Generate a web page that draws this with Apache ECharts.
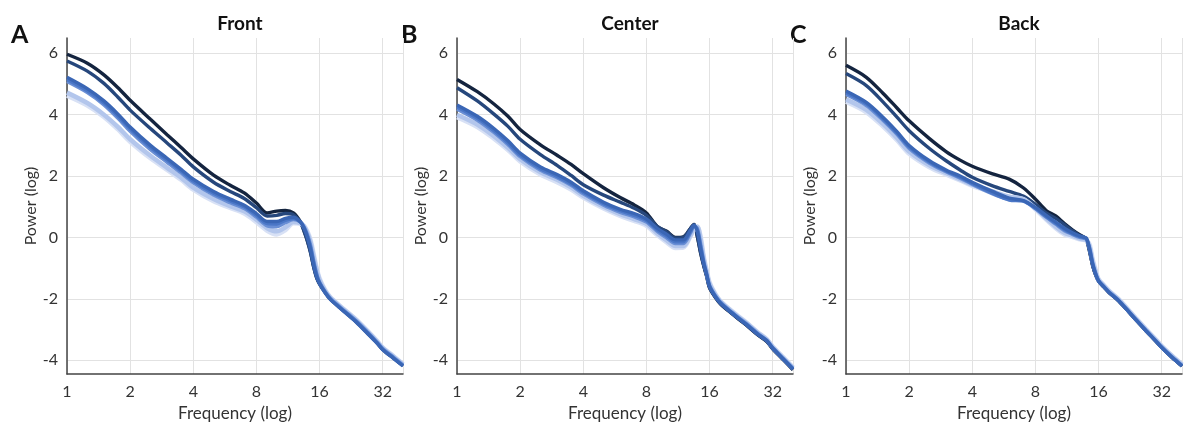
<!DOCTYPE html>
<html>
<head>
<meta charset="utf-8">
<script src="https://cdn.jsdelivr.net/npm/echarts@6/dist/echarts.min.js"></script>
<style>
  html, body { margin: 0; padding: 0; background: #fff; }
  #chart { width: 1192px; height: 429px; }
</style>
</head>
<body>
<div id="chart"></div>
<script>
// Frequencies (Hz) at which the spectra are sampled
const freqs = [1, 1.25, 1.5, 1.75, 2, 2.5, 3, 3.5, 4, 5, 6, 7, 8, 9, 10, 11, 12, 13, 13.5, 14, 14.5, 15, 15.5, 16, 17, 18, 20, 22, 24, 27, 30, 32, 36, 40];

const panelTitles = ['Front', 'Center', 'Back'];
const panelLetters = ['A', 'B', 'C'];
const yTicks = [-4, -2, 0, 2, 4, 6];

// Line colours, darkest to lightest
const shades = ['#14243f', '#26477c', '#3a66b5', '#4b77c7', '#6a8fd5', '#b3c6ec', '#d8e1f5'];

// Front region: log power per frequency, one list per line (darkest first)
const front1 = [5.97, 5.68, 5.30, 4.88, 4.47, 3.85, 3.35, 2.93, 2.56, 2.03, 1.70, 1.45, 1.12, 0.80, 0.86, 0.88, 0.80, 0.50, 0.22, -0.10, -0.48, -0.95, -1.30, -1.50, -1.78, -2.00, -2.28, -2.52, -2.75, -3.10, -3.42, -3.64, -3.92, -4.17];
const front2 = [5.75, 5.42, 5.02, 4.57, 4.15, 3.55, 3.08, 2.68, 2.30, 1.80, 1.50, 1.27, 0.97, 0.70, 0.72, 0.78, 0.74, 0.48, 0.20, -0.12, -0.50, -0.97, -1.32, -1.52, -1.79, -2.01, -2.29, -2.53, -2.76, -3.11, -3.43, -3.65, -3.93, -4.18];
const front3 = [5.22, 4.85, 4.45, 4.02, 3.60, 3.00, 2.58, 2.22, 1.90, 1.50, 1.25, 1.05, 0.78, 0.52, 0.52, 0.62, 0.66, 0.50, 0.30, 0.00, -0.40, -0.90, -1.28, -1.50, -1.80, -2.02, -2.30, -2.54, -2.77, -3.12, -3.44, -3.66, -3.94, -4.19];
const front4 = [5.15, 4.78, 4.38, 3.95, 3.53, 2.93, 2.52, 2.16, 1.84, 1.44, 1.19, 1.00, 0.72, 0.45, 0.44, 0.56, 0.62, 0.50, 0.32, 0.05, -0.32, -0.82, -1.22, -1.48, -1.78, -2.00, -2.28, -2.52, -2.74, -3.09, -3.42, -3.64, -3.92, -4.18];
const front5 = [5.08, 4.72, 4.32, 3.88, 3.46, 2.86, 2.45, 2.10, 1.78, 1.38, 1.13, 0.94, 0.66, 0.38, 0.35, 0.48, 0.58, 0.50, 0.35, 0.10, -0.25, -0.75, -1.17, -1.45, -1.76, -1.98, -2.26, -2.50, -2.72, -3.07, -3.40, -3.62, -3.90, -4.16];
const front6 = [4.72, 4.38, 4.00, 3.60, 3.20, 2.66, 2.27, 1.95, 1.62, 1.25, 1.02, 0.85, 0.58, 0.30, 0.20, 0.33, 0.50, 0.46, 0.36, 0.15, -0.15, -0.62, -1.05, -1.38, -1.73, -1.96, -2.24, -2.48, -2.70, -3.05, -3.38, -3.60, -3.88, -4.14];
const front7 = [4.62, 4.30, 3.93, 3.52, 3.12, 2.58, 2.20, 1.88, 1.56, 1.18, 0.96, 0.78, 0.50, 0.22, 0.10, 0.24, 0.46, 0.45, 0.38, 0.20, -0.08, -0.52, -0.98, -1.32, -1.70, -1.94, -2.22, -2.46, -2.68, -3.03, -3.36, -3.58, -3.86, -4.12];

// Center region
const center1 = [5.15, 4.75, 4.35, 3.95, 3.52, 3.02, 2.68, 2.38, 2.08, 1.62, 1.30, 1.06, 0.80, 0.36, 0.20, 0.00, 0.02, 0.30, 0.42, 0.02, -0.50, -0.92, -1.27, -1.64, -1.94, -2.16, -2.43, -2.66, -2.86, -3.16, -3.39, -3.63, -3.99, -4.31];
const center2 = [4.88, 4.45, 4.02, 3.62, 3.20, 2.70, 2.35, 2.02, 1.72, 1.38, 1.15, 0.95, 0.72, 0.36, 0.18, -0.02, 0.00, 0.30, 0.42, 0.04, -0.48, -0.90, -1.25, -1.63, -1.93, -2.15, -2.42, -2.65, -2.85, -3.15, -3.38, -3.62, -3.98, -4.30];
const center3 = [4.32, 3.95, 3.55, 3.15, 2.75, 2.30, 2.05, 1.80, 1.52, 1.15, 0.92, 0.78, 0.60, 0.30, 0.10, -0.08, -0.08, 0.25, 0.40, 0.18, -0.38, -0.85, -1.22, -1.60, -1.92, -2.14, -2.41, -2.64, -2.84, -3.14, -3.37, -3.61, -3.97, -4.29];
const center4 = [4.25, 3.88, 3.48, 3.08, 2.68, 2.24, 1.99, 1.74, 1.47, 1.10, 0.87, 0.72, 0.55, 0.25, 0.04, -0.14, -0.14, 0.20, 0.38, 0.24, -0.28, -0.80, -1.20, -1.58, -1.90, -2.12, -2.40, -2.63, -2.83, -3.13, -3.36, -3.60, -3.96, -4.28];
const center5 = [4.18, 3.82, 3.42, 3.02, 2.63, 2.19, 1.95, 1.70, 1.42, 1.05, 0.82, 0.67, 0.50, 0.20, -0.02, -0.20, -0.20, 0.15, 0.36, 0.30, -0.20, -0.75, -1.17, -1.55, -1.88, -2.10, -2.38, -2.61, -2.81, -3.11, -3.35, -3.59, -3.95, -4.27];
const center6 = [4.00, 3.68, 3.30, 2.92, 2.55, 2.12, 1.88, 1.63, 1.36, 1.00, 0.76, 0.60, 0.44, 0.14, -0.10, -0.28, -0.28, 0.08, 0.30, 0.35, -0.05, -0.68, -1.12, -1.50, -1.85, -2.08, -2.36, -2.59, -2.79, -3.09, -3.33, -3.57, -3.93, -4.25];
const center7 = [3.92, 3.60, 3.22, 2.85, 2.48, 2.05, 1.80, 1.56, 1.30, 0.94, 0.70, 0.54, 0.38, 0.08, -0.16, -0.34, -0.33, 0.04, 0.26, 0.36, 0.05, -0.60, -1.06, -1.45, -1.82, -2.06, -2.34, -2.57, -2.77, -3.07, -3.31, -3.55, -3.91, -4.23];

// Back region
const back1 = [5.61, 5.22, 4.70, 4.22, 3.80, 3.22, 2.80, 2.52, 2.32, 2.07, 1.90, 1.62, 1.25, 0.88, 0.70, 0.45, 0.25, 0.09, 0.03, -0.08, -0.45, -0.92, -1.22, -1.42, -1.62, -1.80, -2.07, -2.38, -2.67, -3.05, -3.38, -3.59, -3.92, -4.19];
const back2 = [5.34, 4.95, 4.42, 3.92, 3.48, 2.90, 2.50, 2.20, 1.96, 1.68, 1.50, 1.35, 1.08, 0.80, 0.62, 0.42, 0.22, 0.06, 0.02, -0.06, -0.45, -0.92, -1.22, -1.42, -1.62, -1.80, -2.07, -2.38, -2.67, -3.05, -3.38, -3.59, -3.92, -4.19];
const back3 = [4.77, 4.40, 3.92, 3.45, 3.00, 2.50, 2.20, 2.00, 1.80, 1.50, 1.28, 1.20, 0.98, 0.72, 0.50, 0.30, 0.15, 0.05, 0.02, -0.02, -0.40, -0.88, -1.20, -1.42, -1.62, -1.80, -2.07, -2.38, -2.67, -3.05, -3.38, -3.59, -3.92, -4.19];
const back4 = [4.72, 4.35, 3.87, 3.40, 2.95, 2.46, 2.17, 1.96, 1.76, 1.44, 1.22, 1.18, 0.95, 0.68, 0.46, 0.26, 0.12, 0.03, 0.00, -0.04, -0.36, -0.85, -1.18, -1.41, -1.61, -1.79, -2.06, -2.37, -2.66, -3.04, -3.37, -3.58, -3.91, -4.18];
const back5 = [4.66, 4.30, 3.82, 3.36, 2.90, 2.42, 2.14, 1.93, 1.73, 1.42, 1.24, 1.20, 0.94, 0.66, 0.43, 0.22, 0.10, 0.00, -0.02, -0.06, -0.33, -0.82, -1.16, -1.40, -1.60, -1.78, -2.05, -2.36, -2.65, -3.03, -3.36, -3.57, -3.90, -4.17];
const back6 = [4.50, 4.16, 3.70, 3.24, 2.80, 2.35, 2.10, 1.90, 1.72, 1.50, 1.33, 1.25, 0.95, 0.62, 0.35, 0.15, 0.06, -0.04, -0.06, -0.08, -0.30, -0.78, -1.12, -1.38, -1.58, -1.76, -2.03, -2.34, -2.63, -3.01, -3.34, -3.55, -3.88, -4.15];
const back7 = [4.42, 4.08, 3.62, 3.17, 2.73, 2.29, 2.05, 1.86, 1.68, 1.47, 1.32, 1.24, 0.92, 0.58, 0.30, 0.10, 0.02, -0.06, -0.08, -0.10, -0.22, -0.70, -1.05, -1.35, -1.56, -1.74, -2.01, -2.32, -2.61, -2.99, -3.32, -3.53, -3.86, -4.13];

const panels = [
  [front1, front2, front3, front4, front5, front6, front7],
  [center1, center2, center3, center4, center5, center6, center7],
  [back1, back2, back3, back4, back5, back6, back7]
];

// Stacking of the lines: dark ones at the bottom, pale ones next, mid blues on top
const layerOrder = [0, 1, 6, 5, 4, 3, 2];

const FONT = 'Lato, "Open Sans", sans-serif';
const lefts = [67, 457, 846];
const plotW = 336, plotTop = 38, plotH = 336;

const grids = [], xAxes = [], yAxes = [], series = [], titles = [], graphics = [];

panels.forEach(function (lines, p) {
  grids.push({ left: lefts[p], top: plotTop, width: plotW, height: plotH, containLabel: false });
  xAxes.push({
    type: 'log', logBase: 2, gridIndex: p, min: 1, max: 40,
    name: 'Frequency (log)', nameLocation: 'middle', nameGap: 29,
    nameTextStyle: { fontFamily: FONT, fontSize: 17, color: '#333' },
    axisLine: { show: true, onZero: false, lineStyle: { color: '#444', width: 1.5 } },
    axisTick: { show: false },
    axisLabel: { fontFamily: FONT, fontSize: 16, color: '#333', margin: 10, showMaxLabel: false,
      formatter: function (v) { return String(Math.round(v)); } },
    splitLine: { show: true, lineStyle: { color: '#e2e2e2', width: 1 } }
  });
  yAxes.push({
    type: 'value', gridIndex: p, min: -4.45, max: 6.5,
    name: 'Power (log)', nameLocation: 'middle', nameGap: 28,
    nameTextStyle: { fontFamily: FONT, fontSize: 16, color: '#333' },
    axisLine: { show: true, onZero: false, lineStyle: { color: '#444', width: 1.5 } },
    axisTick: { show: false, customValues: yTicks },
    axisLabel: { fontFamily: FONT, fontSize: 16, color: '#333', margin: 9, customValues: yTicks },
    splitLine: { show: true, lineStyle: { color: '#e2e2e2', width: 1 } }
  });
  titles.push({
    text: panelTitles[p], left: lefts[p] + plotW / 2, top: 9, textAlign: 'center',
    textStyle: { fontFamily: FONT, fontSize: 19, fontWeight: 'bold', color: '#111' }
  });
  graphics.push({
    type: 'text', left: lefts[p] - 56, top: 22,
    style: { text: panelLetters[p], fontFamily: FONT, fontSize: 25, fontWeight: 'bold', fill: '#111' }
  });
  layerOrder.forEach(function (k, layer) {
    series.push({
      type: 'line', xAxisIndex: p, yAxisIndex: p,
      data: freqs.map(function (f, i) { return [f, lines[k][i]]; }),
      showSymbol: false, smooth: 0.3, silent: true,
      lineStyle: { color: shades[k], width: k >= 5 ? 4.5 : 3.4 },
      z: 2 + layer
    });
  });
});

const chart = echarts.init(document.getElementById('chart'), null, { renderer: 'canvas' });
chart.setOption({
  animation: false,
  backgroundColor: '#ffffff',
  title: titles,
  grid: grids,
  xAxis: xAxes,
  yAxis: yAxes,
  series: series,
  graphic: graphics
});
</script>
</body>
</html>
